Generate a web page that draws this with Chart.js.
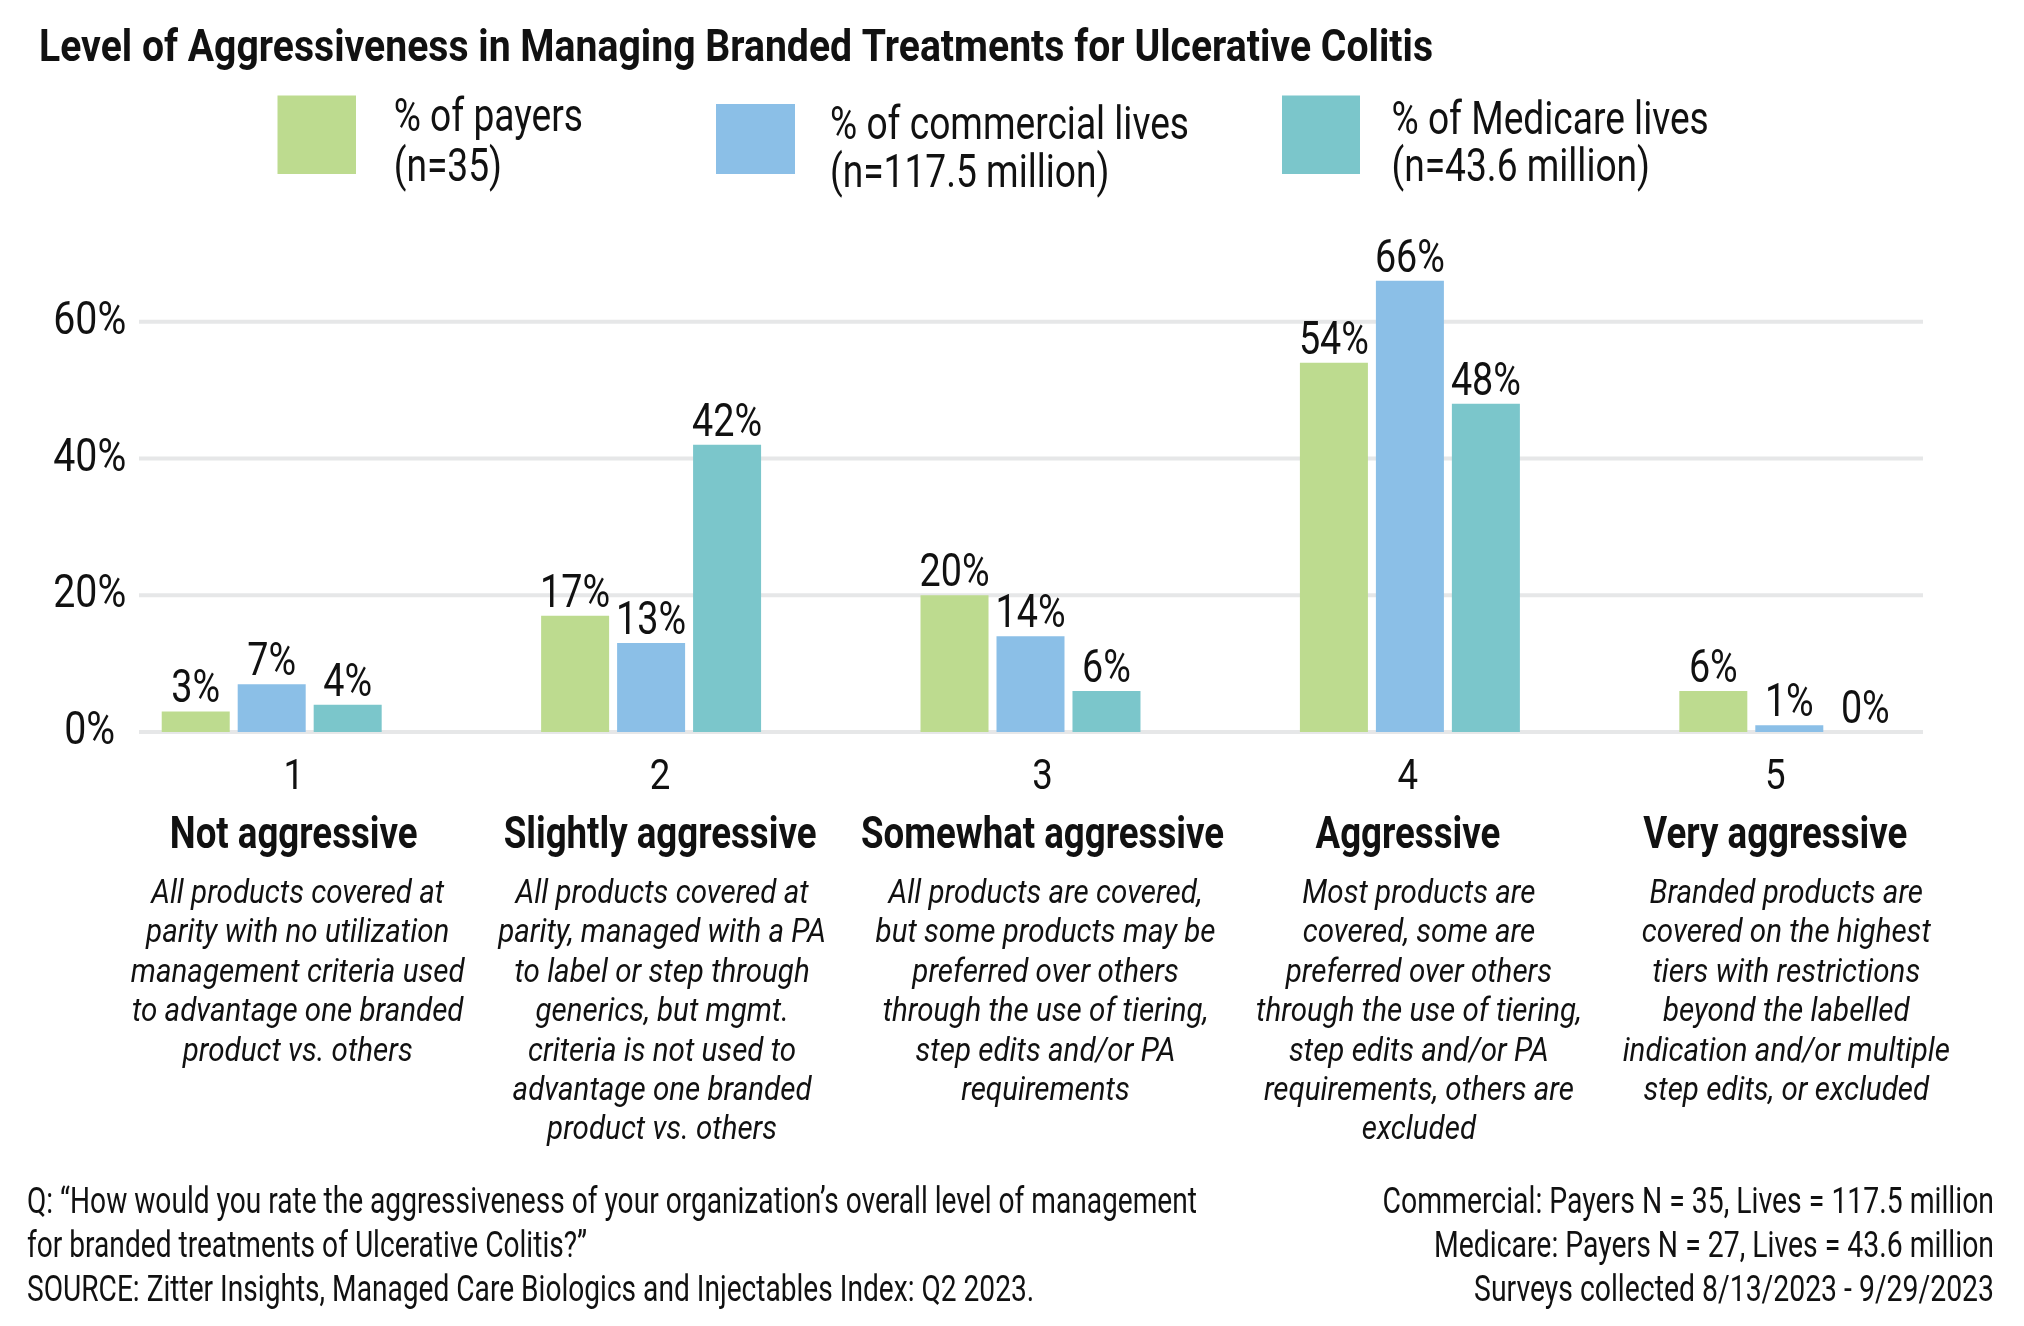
<!DOCTYPE html>
<html><head><meta charset="utf-8">
<script src="https://cdn.jsdelivr.net/npm/chart.js@4.4.1/dist/chart.umd.min.js"></script>
<style>html,body{margin:0;padding:0;background:#fff;}canvas{display:block;}</style>
</head><body>
<canvas id="c" width="2024" height="1326"></canvas>
<script>
// ---------- data ----------
const chartTitle = "Level of Aggressiveness in Managing Branded Treatments for Ulcerative Colitis";
const categories = ["1", "2", "3", "4", "5"];
const categoryNames = ["Not aggressive", "Slightly aggressive", "Somewhat aggressive", "Aggressive", "Very aggressive"];
const categoryDescriptions = [
  ["All products covered at", "parity with no utilization", "management criteria used", "to advantage one branded", "product vs. others"],
  ["All products covered at", "parity, managed with a PA", "to label or step through", "generics, but mgmt.", "criteria is not used to", "advantage one branded", "product vs. others"],
  ["All products are covered,", "but some products may be", "preferred over others", "through the use of tiering,", "step edits and/or PA", "requirements"],
  ["Most products are", "covered, some are", "preferred over others", "through the use of tiering,", "step edits and/or PA", "requirements, others are", "excluded"],
  ["Branded products are", "covered on the highest", "tiers with restrictions", "beyond the labelled", "indication and/or multiple", "step edits, or excluded"]
];
const seriesNames = ["% of payers", "% of commercial lives", "% of Medicare lives"];
const seriesNotes = ["(n=35)", "(n=117.5 million)", "(n=43.6 million)"];
const payers = [3, 17, 20, 54, 6];
const commercialLives = [7, 13, 14, 66, 1];
const medicareLives = [4, 42, 6, 48, 0];
const yTickValues = [0, 20, 40, 60];
const footerLeft = [
  "Q: \u201CHow would you rate the aggressiveness of your organization\u2019s overall level of management",
  "for branded treatments of Ulcerative Colitis?\u201D",
  "SOURCE: Zitter Insights, Managed Care Biologics and Injectables Index: Q2 2023."
];
const footerRight = [
  "Commercial: Payers N = 35, Lives = 117.5 million",
  "Medicare: Payers N = 27, Lives = 43.6 million",
  "Surveys collected 8/13/2023 - 9/29/2023"
];

// ---------- styling ----------
const COLORS = ["#bddb8f", "#8bbfe7", "#7bc6cb"];
const FAMILY = "Roboto, 'Liberation Sans', sans-serif";
const TEXT_COLOR = "#111111";
const STYLES = {
  title:   { weight: "bold",   style: "normal", size: 44, ref: chartTitle, width: 1394 },
  legend:  { weight: "normal", style: "normal", size: 46, ref: seriesNames[1], width: 359 },
  tick:    { weight: "normal", style: "normal", size: 47, ref: "60%", width: 73 },
  value:   { weight: "normal", style: "normal", size: 47, ref: "54%", width: 70 },
  number:  { weight: "normal", style: "normal", size: 43, ref: "60%", width: 68 },
  name:    { weight: "bold",   style: "normal", size: 45, ref: categoryNames[2], width: 363 },
  desc:    { weight: "normal", style: "italic", size: 33, ref: categoryDescriptions[0][0], width: 293 },
  footerL: { weight: "normal", style: "normal", size: 37, ref: footerLeft[0], width: 1170 },
  footerR: { weight: "normal", style: "normal", size: 37, ref: footerRight[1], width: 560 }
};
const LAYOUT = {
  titleX: 39, titleY: 61,
  legendBoxes: [[277.5, 95.5, 78.5, 78.5], [716, 104, 79, 70], [1282, 95.5, 78, 78.5]],
  legendTextX: [393.7, 830, 1391.5],
  legendLine1Y: [131, 139, 134],
  legendLine2Y: [181, 187, 181],
  gridLeft: 139, gridRight: 1923, gridWidth: 4, gridColor: "#e6e7e8",
  tickX: 89.7, tickDY: 12,
  valueGap: 9,
  numberY: 789, nameY: 848, descY: 903, descLH: 39.4,
  numberOffset: [22, 9, 12, -2, -14],
  descOffset: [26, 11, 15, 9, -3],
  footerLeftX: 27, footerRightX: 1994, footerY: [1213, 1257, 1301]
};

function fontOf(st) { return `${st.style} ${st.weight} ${st.size}px ${FAMILY}`; }

function computeScales(ctx) {
  for (const k in STYLES) {
    const st = STYLES[k];
    ctx.save();
    ctx.font = fontOf(st);
    const w = ctx.measureText(st.ref).width;
    ctx.restore();
    st.sx = st.width / w;
  }
}

function drawText(ctx, text, x, y, st, align) {
  ctx.save();
  ctx.font = fontOf(st);
  ctx.fillStyle = TEXT_COLOR;
  ctx.textBaseline = "alphabetic";
  ctx.textAlign = align || "left";
  ctx.translate(x, y);
  ctx.scale(st.sx, 1);
  ctx.fillText(text, 0, 0);
  ctx.restore();
}

const decorPlugin = {
  id: "decor",
  beforeDatasetsDraw(chart) {
    const ctx = chart.ctx, ys = chart.scales.y;
    ctx.save();
    ctx.strokeStyle = LAYOUT.gridColor;
    ctx.lineWidth = LAYOUT.gridWidth;
    yTickValues.forEach(v => {
      const py = ys.getPixelForValue(v);
      ctx.beginPath();
      ctx.moveTo(LAYOUT.gridLeft, py);
      ctx.lineTo(LAYOUT.gridRight, py);
      ctx.stroke();
    });
    ctx.restore();
  },
  afterDatasetsDraw(chart) {
    const ctx = chart.ctx, xs = chart.scales.x, ys = chart.scales.y;
    computeScales(ctx);
    drawText(ctx, chartTitle, LAYOUT.titleX, LAYOUT.titleY, STYLES.title, "left");
    chart.data.datasets.forEach((ds, i) => {
      const b = LAYOUT.legendBoxes[i];
      ctx.save();
      ctx.fillStyle = ds.backgroundColor;
      ctx.fillRect(b[0], b[1], b[2], b[3]);
      ctx.restore();
      drawText(ctx, seriesNames[i], LAYOUT.legendTextX[i], LAYOUT.legendLine1Y[i], STYLES.legend, "left");
      drawText(ctx, seriesNotes[i], LAYOUT.legendTextX[i], LAYOUT.legendLine2Y[i], STYLES.legend, "left");
    });
    yTickValues.forEach(v => {
      drawText(ctx, v + "%", LAYOUT.tickX, ys.getPixelForValue(v) + LAYOUT.tickDY, STYLES.tick, "center");
    });
    chart.data.datasets.forEach((ds, i) => {
      const meta = chart.getDatasetMeta(i);
      meta.data.forEach((bar, j) => {
        drawText(ctx, ds.data[j] + "%", bar.x, bar.y - LAYOUT.valueGap, STYLES.value, "center");
      });
    });
    categories.forEach((c, j) => {
      const cx = xs.getPixelForValue(j);
      drawText(ctx, c, cx + LAYOUT.numberOffset[j], LAYOUT.numberY, STYLES.number, "center");
      drawText(ctx, categoryNames[j], cx + LAYOUT.numberOffset[j], LAYOUT.nameY, STYLES.name, "center");
      categoryDescriptions[j].forEach((line, k) => {
        drawText(ctx, line, cx + LAYOUT.descOffset[j], LAYOUT.descY + k * LAYOUT.descLH, STYLES.desc, "center");
      });
    });
    footerLeft.forEach((t, k) => drawText(ctx, t, LAYOUT.footerLeftX, LAYOUT.footerY[k], STYLES.footerL, "left"));
    footerRight.forEach((t, k) => drawText(ctx, t, LAYOUT.footerRightX, LAYOUT.footerY[k], STYLES.footerR, "right"));
  }
};

const barOpts = { categoryPercentage: 0.6008, barPercentage: 0.895, borderWidth: 0 };

new Chart(document.getElementById("c").getContext("2d"), {
  type: "bar",
  data: {
    labels: categories,
    datasets: [
      Object.assign({ label: seriesNames[0], data: payers, backgroundColor: COLORS[0] }, barOpts),
      Object.assign({ label: seriesNames[1], data: commercialLives, backgroundColor: COLORS[1] }, barOpts),
      Object.assign({ label: seriesNames[2], data: medicareLives, backgroundColor: COLORS[2] }, barOpts)
    ]
  },
  options: {
    responsive: false,
    animation: false,
    devicePixelRatio: 1,
    layout: { padding: { left: 82, right: 45, top: 185, bottom: 594 } },
    plugins: { legend: { display: false }, tooltip: { enabled: false }, title: { display: false } },
    scales: {
      x: { display: false },
      y: { display: false, min: 0, max: 80 }
    }
  },
  plugins: [decorPlugin]
});
</script>
</body></html>
